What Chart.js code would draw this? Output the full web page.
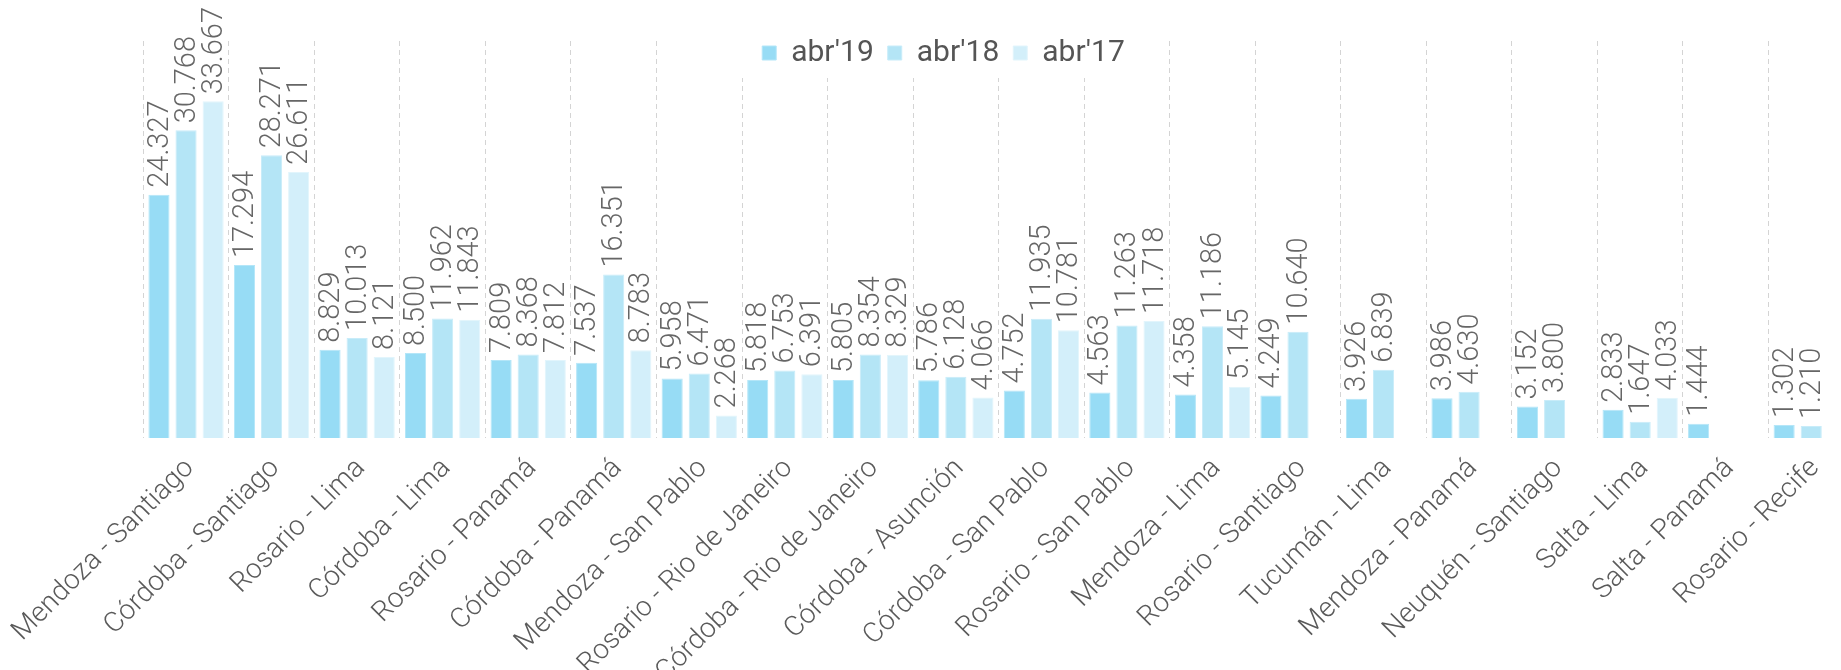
<!DOCTYPE html>
<html>
  <head>
    <title>Rutas abr'19 vs abr'18 vs abr'17</title>
    <script src="https://cdn.jsdelivr.net/npm/chart.js@4.4.1/dist/chart.umd.min.js"></script>
    <style>
      html, body { margin: 0; padding: 0; background: #fff; overflow: hidden; }
      #wrap { position: relative; width: 1860px; height: 701px; }
    </style>
  </head>
  <body>
    <div id="wrap"><canvas id="chart"></canvas></div>

    <script type="text/javascript">

      const routes = [
        'Mendoza - Santiago', 'Córdoba - Santiago', 'Rosario - Lima', 'Córdoba - Lima',
        'Rosario - Panamá', 'Córdoba - Panamá', 'Mendoza - San Pablo', 'Rosario - Rio de Janeiro',
        'Córdoba - Rio de Janeiro', 'Córdoba - Asunción', 'Córdoba - San Pablo', 'Rosario - San Pablo',
        'Mendoza - Lima', 'Rosario - Santiago', 'Tucumán - Lima', 'Mendoza - Panamá',
        'Neuquén - Santiago', 'Salta - Lima', 'Salta - Panamá', 'Rosario - Recife'
      ];

      const abr19 = [24327, 17294, 8829, 8500, 7809, 7537, 5958, 5818, 5805, 5786,
                     4752, 4563, 4358, 4249, 3926, 3986, 3152, 2833, 1444, 1302];
      const abr18 = [30768, 28271, 10013, 11962, 8368, 16351, 6471, 6753, 8354, 6128,
                     11935, 11263, 11186, 10640, 6839, 4630, 3800, 1647, null, 1210];
      const abr17 = [33667, 26611, 8121, 11843, 7812, 8783, 2268, 6391, 8329, 4066,
                     10781, 11718, 5145, null, null, null, null, 4033, null, null];

      const seriesNames = ["abr'19", "abr'18", "abr'17"];

      const lightFont = "'Roboto Light', Roboto";

      // miles con punto
      function fmt(v) {
        return String(v).replace(/\B(?=(\d{3})+(?!\d))/g, '.');
      }

      // gridlines go up to the top, except behind the legend
      const legendBand = {
        id: 'legendBand',
        afterLayout(chart) {
          chart.legend.left += 6;
          chart.legend.right += 6;
          chart.$origTop = chart.chartArea.top;
          chart.chartArea.top = 41;
        },
        beforeDatasetsDraw(chart) {
          const lg = chart.legend;
          const boxes = lg.legendHitBoxes;
          const x0 = boxes[0].left - 30;
          const last = boxes[boxes.length - 1];
          const x1 = last.left + last.width + 30;
          const ctx = chart.ctx;
          ctx.save();
          ctx.fillStyle = '#ffffff';
          ctx.fillRect(x0, 30, x1 - x0, chart.$origTop - 30);
          ctx.restore();
          lg.draw();
        }
      };

      const barLabels = {
        id: 'barLabels',
        afterDatasetsDraw(chart) {
          const ctx = chart.ctx;
          ctx.save();
          ctx.font = '300 29px ' + lightFont;
          ctx.fillStyle = '#666666';
          ctx.textAlign = 'left';
          ctx.textBaseline = 'middle';
          chart.data.datasets.forEach((ds, i) => {
            chart.getDatasetMeta(i).data.forEach((bar, j) => {
              const v = ds.data[j];
              if (v == null) return;
              ctx.save();
              ctx.translate(bar.x, bar.y - 7);
              ctx.rotate(-Math.PI / 2);
              ctx.fillText(fmt(v), 0, 0);
              ctx.restore();
            });
          });
          ctx.restore();
        }
      };

      const ctx = document.getElementById('chart').getContext('2d');

      const myChart = new Chart(ctx, {
        type: 'bar',
        data: {
          labels: routes,
          datasets: [
            { label: seriesNames[0], data: abr19, backgroundColor: '#97dcf5', borderColor: '#b4e6f8', borderWidth: 1 },
            { label: seriesNames[1], data: abr18, backgroundColor: '#b4e5f6', borderColor: '#c8ecf9', borderWidth: 1 },
            { label: seriesNames[2], data: abr17, backgroundColor: '#d3effa', borderColor: '#e2f5fc', borderWidth: 1 }
          ]
        },
        options: {
          responsive: true,
          maintainAspectRatio: false,
          animation: false,
          layout: { padding: { top: 24, left: 21, right: 6, bottom: 0 } },
          datasets: {
            bar: { categoryPercentage: 0.95, barPercentage: 0.78 }
          },
          plugins: {
            legend: {
              position: 'top',
              labels: {
                boxWidth: 14,
                boxHeight: 14,
                padding: 14,
                color: '#555555',
                font: { family: 'Roboto', size: 30 }
              }
            },
            tooltip: { enabled: false }
          },
          scales: {
            x: {
              grid: { color: '#d4d4d4', lineWidth: 1, drawTicks: false, offset: true },
              border: { display: false, dash: [5, 4] },
              ticks: {
                minRotation: 45,
                maxRotation: 45,
                autoSkip: false,
                padding: 13,
                labelOffset: 3,
                color: '#5a5a5a',
                font: { family: lightFont, size: 28, weight: '300' }
              }
            },
            y: {
              display: false,
              min: 0,
              max: 36000
            }
          }
        },
        plugins: [legendBand, barLabels]
      });

    </script>
  </body>
</html>
